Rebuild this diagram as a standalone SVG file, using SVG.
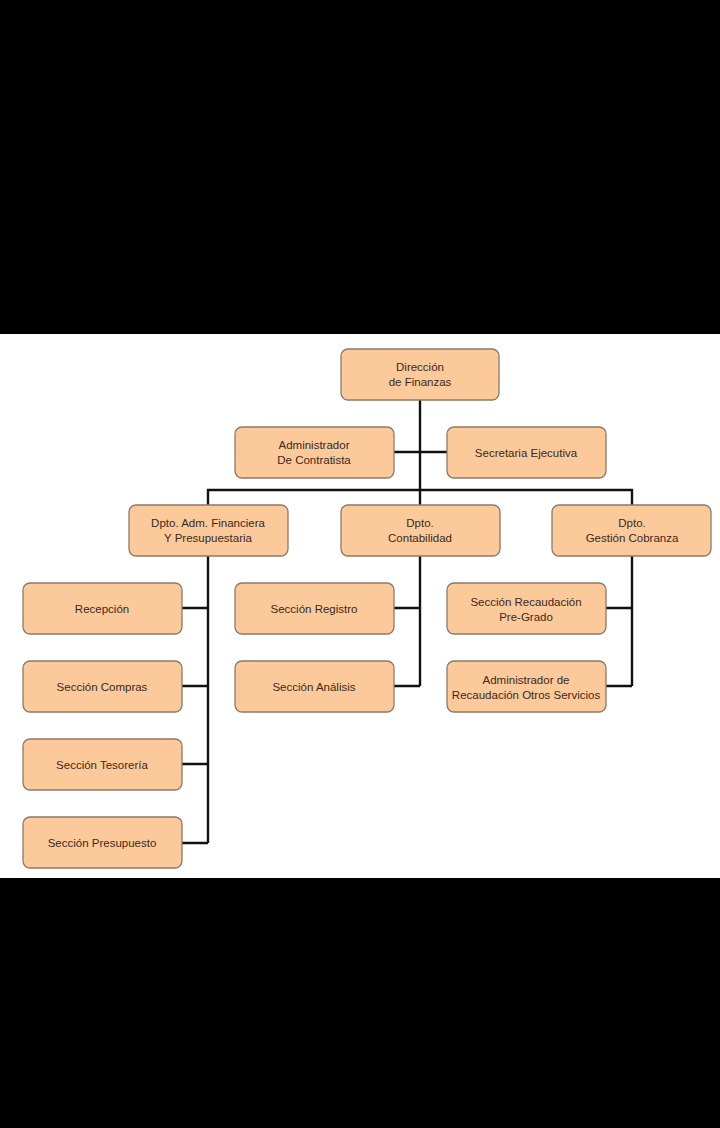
<svg xmlns="http://www.w3.org/2000/svg" width="720" height="1128" viewBox="0 0 720 1128">
<style>
.n rect{fill:#fcc99a;stroke:#8c7a68;stroke-width:1.3}
.n text{font-family:"Liberation Sans",Arial,sans-serif;font-size:11.5px;fill:#3a2a1c;text-anchor:middle}
.c path{fill:none;stroke:#111;stroke-width:2.4}
</style>
<rect x="0" y="0" width="720" height="1128" fill="#000"/>
<rect x="0" y="334" width="720" height="544" fill="#fff"/>
<g class="c">
<path d="M420 400V505M208 505V490H632V505M394 452H447"/>
<path d="M208 556V843M182 608H208M182 686H208M182 764H208M182 843H208"/>
<path d="M420 556V686M394 608H420M394 686H420"/>
<path d="M632 556V686M606 608H632M606 686H632"/>
</g>
<g id="direccion" class="n"><rect x="341" y="349" width="158" height="51" rx="7"/><text x="420" y="371">Dirección</text><text x="420" y="386">de Finanzas</text></g>
<g id="admin-contratista" class="n"><rect x="235" y="427" width="159" height="51" rx="7"/><text x="314" y="449">Administrador</text><text x="314" y="464">De Contratista</text></g>
<g id="secretaria" class="n"><rect x="447" y="427" width="159" height="51" rx="7"/><text x="526" y="457">Secretaria Ejecutiva</text></g>
<g id="dpto-adm" class="n"><rect x="129" y="505" width="159" height="51" rx="7"/><text x="208" y="527">Dpto. Adm. Financiera</text><text x="208" y="542">Y Presupuestaria</text></g>
<g id="dpto-contabilidad" class="n"><rect x="341" y="505" width="159" height="51" rx="7"/><text x="420" y="527">Dpto.</text><text x="420" y="542">Contabilidad</text></g>
<g id="dpto-gestion" class="n"><rect x="552" y="505" width="159" height="51" rx="7"/><text x="632" y="527">Dpto.</text><text x="632" y="542">Gestión Cobranza</text></g>
<g id="recepcion" class="n"><rect x="23" y="583" width="159" height="51" rx="7"/><text x="102" y="613">Recepción</text></g>
<g id="compras" class="n"><rect x="23" y="661" width="159" height="51" rx="7"/><text x="102" y="691">Sección Compras</text></g>
<g id="tesoreria" class="n"><rect x="23" y="739" width="159" height="51" rx="7"/><text x="102" y="769">Sección Tesorería</text></g>
<g id="presupuesto" class="n"><rect x="23" y="817" width="159" height="51" rx="7"/><text x="102" y="847">Sección Presupuesto</text></g>
<g id="registro" class="n"><rect x="235" y="583" width="159" height="51" rx="7"/><text x="314" y="613">Sección Registro</text></g>
<g id="analisis" class="n"><rect x="235" y="661" width="159" height="51" rx="7"/><text x="314" y="691">Sección Análisis</text></g>
<g id="recaudacion-pregrado" class="n"><rect x="447" y="583" width="159" height="51" rx="7"/><text x="526" y="606">Sección Recaudación</text><text x="526" y="621">Pre-Grado</text></g>
<g id="recaudacion-otros" class="n"><rect x="447" y="661" width="159" height="51" rx="7"/><text x="526" y="684">Administrador de</text><text x="526" y="699">Recaudación Otros Servicios</text></g>
</svg>
